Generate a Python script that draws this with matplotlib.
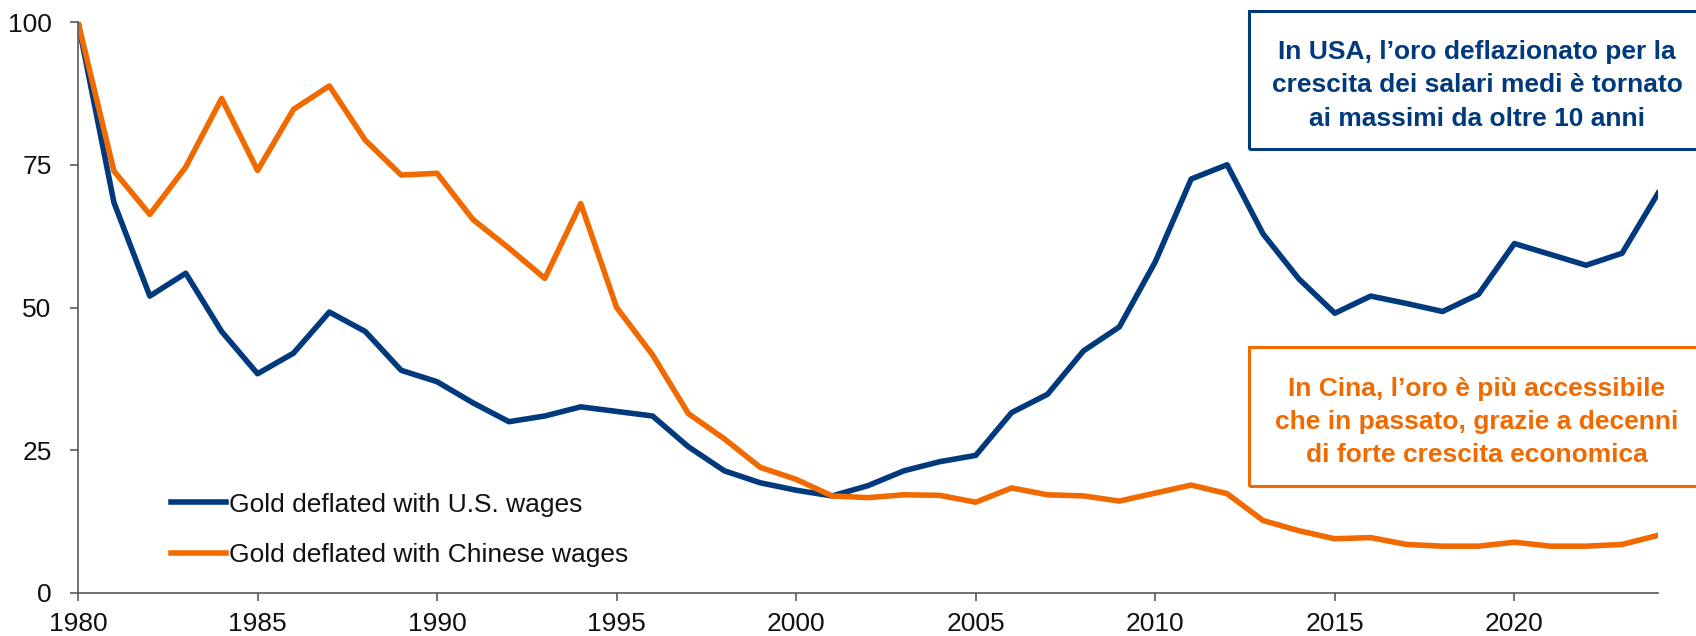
import numpy as np
import matplotlib
matplotlib.use('Agg')
from matplotlib import pyplot as plt
from matplotlib.patches import Rectangle

plt.rcParams['font.family'] = ['Liberation Sans', 'DejaVu Sans']

BLUE = '#003a7d'
ORANGE = '#f06a00'
GREY = '#5a5a5a'
FS = 19

years = np.arange(1980, 2025)

# gold price deflated by wage growth, 1980 = 100
us_wages = [100, 68.4, 52.0, 56.0, 45.8, 38.4, 42.0, 49.2, 45.8, 39.0,
            37.0, 33.3, 30.0, 31.0, 32.6, 31.8, 31.0, 25.6, 21.4, 19.3,
            18.0, 17.0, 18.8, 21.4, 23.0, 24.1, 31.6, 34.8, 42.4, 46.6,
            58.0, 72.5, 75.0, 62.9, 55.0, 49.0, 52.0, 50.7, 49.3, 52.3,
            61.2, 59.3, 57.4, 59.5, 70.0]
cn_wages = [100, 73.9, 66.3, 74.6, 86.6, 74.0, 84.7, 88.8, 79.3, 73.2,
            73.5, 65.4, 60.4, 55.1, 68.2, 50.0, 41.7, 31.4, 27.0, 22.0,
            19.9, 17.0, 16.7, 17.2, 17.1, 15.9, 18.4, 17.2, 17.0, 16.1,
            17.5, 18.9, 17.4, 12.7, 10.9, 9.5, 9.7, 8.5, 8.2, 8.2,
            8.9, 8.2, 8.2, 8.5, 10.1]

labels = ['Gold deflated with U.S. wages', 'Gold deflated with Chinese wages']
xticks = [1980, 1985, 1990, 1995, 2000, 2005, 2010, 2015, 2020]
yticks = [0, 25, 50, 75, 100]

note_us = "In USA, l\u2019oro deflazionato per la\ncrescita dei salari medi \u00e8 tornato\nai massimi da oltre 10 anni"
note_cn = "In Cina, l\u2019oro \u00e8 pi\u00f9 accessibile\nche in passato, grazie a decenni\ndi forte crescita economica"

W, H = 1696, 636
fig = plt.figure(figsize=(W / 100, H / 100), dpi=100)
ax = fig.add_axes([78 / W, 1 - 593 / H, (1658 - 78) / W, (593 - 22) / H])

ax.plot(years, us_wages, color=BLUE, lw=4, label=labels[0])
ax.plot(years, cn_wages, color=ORANGE, lw=4, label=labels[1])

ax.set_xlim(1980, 2024)
ax.set_ylim(0, 100)
ax.set_xticks(xticks)
ax.set_yticks(yticks)
for s in ('top', 'right'):
    ax.spines[s].set_visible(False)
for s in ('left', 'bottom'):
    ax.spines[s].set_color(GREY)
    ax.spines[s].set_linewidth(1.2)
ax.tick_params(axis='both', direction='out', length=6, width=1.2, color=GREY,
               labelsize=FS, labelcolor='#111111')
ax.tick_params(axis='y', pad=13)
ax.tick_params(axis='x', pad=8)

leg = ax.legend(loc='lower left', bbox_to_anchor=(0.052, 0.027), frameon=False,
                fontsize=FS, handlelength=2.1, handletextpad=0.12,
                labelspacing=1.0, borderaxespad=0)
for t in leg.get_texts():
    t.set_color('#111111')

# annotation boxes, running off the right edge
def note(y0, y1, text, color):
    fig.add_artist(Rectangle((1249 / W, 1 - y1 / H), (W + 10 - 1249) / W, (y1 - y0) / H,
                             transform=fig.transFigure, fill=False, edgecolor=color,
                             lw=2.2, clip_on=False))
    fig.text(1477 / W, 1 - ((y0 + y1) / 2 + 5.5) / H, text, color=color, fontsize=FS,
             fontweight='bold', ha='center', va='center', linespacing=1.48)

note(11, 149, note_us, BLUE)
note(347, 486, note_cn, ORANGE)

fig.savefig('out.png', dpi=100)
